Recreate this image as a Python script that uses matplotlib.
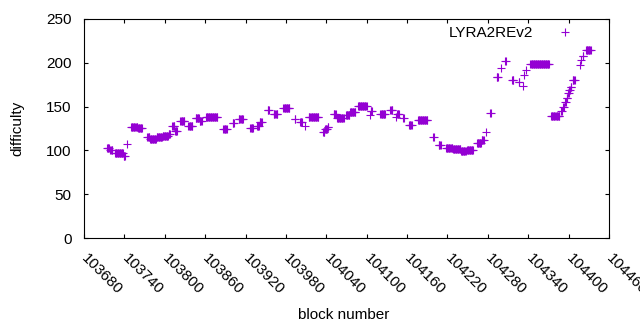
import numpy as np
import matplotlib
matplotlib.use("Agg")
import matplotlib.pyplot as plt

plt.rcParams['font.family'] = ['Liberation Sans', 'DejaVu Sans']

# Run-length encoded difficulty data: each run is (first block, last block, difficulty)
run_first = [103714, 103719, 103726, 103739, 103744, 103750, 103760, 103774, 103778, 103788,
             103797, 103806, 103811, 103815, 103823, 103835, 103846, 103852, 103861, 103887,
             103901, 103910, 103927, 103937, 103941, 103953, 103962, 103976, 103993, 104001,
             104008, 104014, 104035, 104038, 104042, 104051, 104056, 104069, 104075, 104087,
             104105, 104106, 104120, 104135, 104143, 104145, 104154, 104163, 104176, 104199,
             104207, 104218, 104228, 104240, 104249, 104264, 104271, 104277, 104283, 104293,
             104300, 104306, 104316, 104326, 104332, 104334, 104337, 104343, 104374, 104389,
             104392, 104395, 104397, 104399, 104401, 104403, 104406, 104417, 104419, 104421,
             104426]
run_last = [103717, 103722, 103738, 103741, 103744, 103759, 103766, 103777, 103787, 103796,
            103805, 103808, 103814, 103818, 103829, 103841, 103851, 103855, 103878, 103892,
            103903, 103916, 103931, 103940, 103944, 103955, 103967, 103985, 103994, 104004,
            104008, 104028, 104037, 104041, 104043, 104054, 104066, 104074, 104083, 104100,
            104105, 104108, 104127, 104138, 104143, 104148, 104155, 104167, 104190, 104200,
            104210, 104227, 104239, 104247, 104258, 104270, 104274, 104277, 104284, 104295,
            104300, 104307, 104318, 104327, 104332, 104334, 104337, 104371, 104386, 104390,
            104393, 104396, 104398, 104400, 104402, 104404, 104409, 104417, 104419, 104422,
            104433]
run_value = [103, 100, 97, 94, 107, 127, 126, 115, 113, 115,
             117, 119, 128, 122, 134, 128, 137, 134, 138, 125,
             131, 136, 126, 128, 132, 146, 142, 148, 136, 132,
             128, 138, 121, 124, 127, 141, 137, 140, 144, 151,
             140, 145, 141.5, 146, 138, 141, 137, 129, 135, 115,
             106, 103, 102, 99, 101, 108, 112, 121, 143, 184,
             194, 202, 180, 178, 174, 186, 192, 199, 139, 145,
             150, 155, 160, 165, 169, 172, 180, 197, 203, 208,
             215]

x_tick_values = [103680 + 60 * i for i in range(14)]
y_tick_values = [0, 50, 100, 150, 200, 250]

blocks = []
diffs = []
for a, b, v in zip(run_first, run_last, run_value):
    for blk in range(a, b + 1):
        blocks.append(blk)
        diffs.append(v)

FS = 11

fig = plt.figure(figsize=(6.4, 3.3), dpi=100)
ax = fig.add_axes([84 / 640, 1 - 238 / 330, 525 / 640, 219 / 330])

ax.plot(blocks, diffs, linestyle='none', marker='+', markersize=6,
        markeredgewidth=0.8, color='#9400d3', label='LYRA2REv2')

ax.set_xlim(103680, 104460)
ax.set_ylim(0, 250)
ax.set_xticks(x_tick_values)
ax.set_yticks(y_tick_values)
ax.set_xticklabels([str(v) for v in x_tick_values], rotation=-45,
                   ha='left', va='center', rotation_mode='anchor')
ax.tick_params(direction='in', top=True, right=True, length=3, width=0.8,
               labelsize=FS, colors='black')
ax.tick_params(axis='y', pad=9)
ax.tick_params(axis='x', pad=13)
for s in ax.spines.values():
    s.set_linewidth(0.8)

ax.set_xlabel('block number', fontsize=FS, va='center')
ax.set_ylabel('difficulty', fontsize=FS, va='center')
ax.xaxis.set_label_coords((344 - 84) / 525, (238 - 315) / 219)
ax.yaxis.set_label_coords((17 - 84) / 525, 0.5)

ax.legend(loc='upper right', bbox_to_anchor=(0.945, 0.968), frameon=False,
          markerfirst=False, handlelength=2.0, handletextpad=1.1,
          borderaxespad=0, borderpad=0, fontsize=FS)

fig.savefig('out.png', dpi=100)
